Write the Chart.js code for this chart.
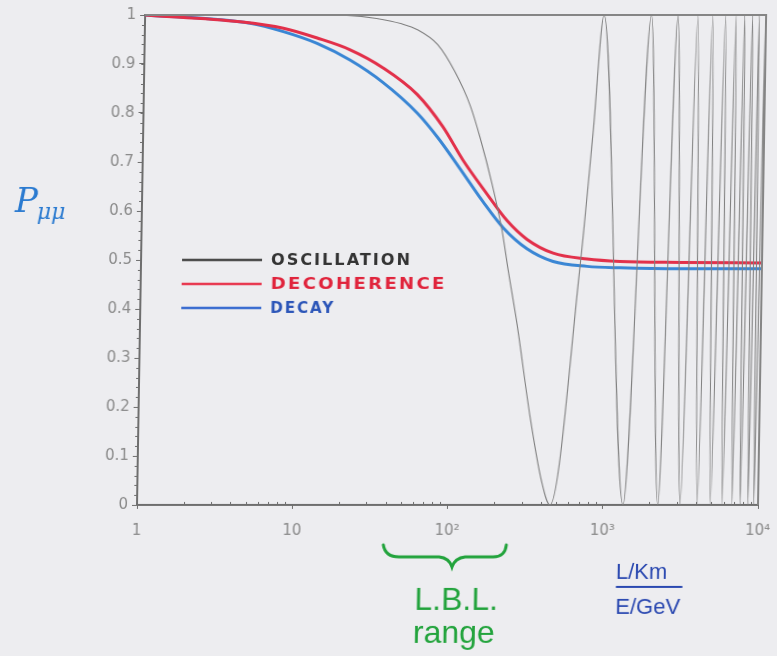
<!DOCTYPE html>
<html>
<head>
<meta charset="utf-8">
<script src="https://cdn.jsdelivr.net/npm/chart.js@4.4.1/dist/chart.umd.min.js"></script>
<style>
  html, body { margin: 0; padding: 0; background: #ededf0; }
  #c { display: block; transform: skewX(-0.95deg); transform-origin: 0 505px; }
</style>
</head>
<body>
<canvas id="c" width="777" height="656"></canvas>
<script>
// L/E values (km/GeV) and survival probabilities
const oscX = [1, 10, 20, 31, 45, 57, 77, 100, 127, 148, 179, 210, 232, 268, 333, 400, 457,
  673, 791, 905, 1350, 1830, 2260, 2710, 3150, 3640, 4050, 4540, 4920, 5500,
  5860, 6420, 6780, 7300, 7660, 8200, 8600, 9050, 9380, 9950, 10000];
const oscY = [1, 1, 0.999, 0.993, 0.982, 0.97, 0.94, 0.885, 0.815, 0.75, 0.655, 0.56, 0.48, 0.37, 0.18, 0.05, 0,
  0.486, 0.76, 1, 0, 1, 0, 1, 0, 1, 0, 1, 0, 1,
  0, 1, 0, 1, 0, 1, 0, 1, 0, 1, 0.99];

const decohX = [1, 4.1, 7.8, 12.9, 21.1, 34.6, 57.6, 85, 116, 167, 226, 305, 450, 746, 1213, 3000, 10000];
const decohY = [1, 0.986, 0.973, 0.953, 0.929, 0.892, 0.838, 0.772, 0.703, 0.634, 0.58, 0.542, 0.514, 0.502, 0.497, 0.495, 0.494];

const decayX = [1, 4.75, 7.8, 12.9, 21.1, 34.7, 57.9, 79, 111, 157, 213, 305, 451, 746, 1216, 3000, 10000];
const decayY = [1, 0.983, 0.966, 0.942, 0.908, 0.862, 0.8, 0.75, 0.686, 0.619, 0.566, 0.523, 0.497, 0.487, 0.484, 0.482, 0.482];

const xMajor = [1, 10, 100, 1000, 10000];
const xLabels = ['1', '10', '10²', '10³', '10⁴'];
const seriesNames = ['OSCILLATION', 'DECOHERENCE', 'DECAY'];

const pts = (xs, ys) => xs.map((x, i) => ({ x, y: ys[i] }));

const axisColor = '#6e6e6e';
const tickText = '#8a8a8a';

// draw text stretched to a given width
function fitText(ctx, text, x, y, w) {
  const m = ctx.measureText(text).width;
  ctx.save();
  ctx.translate(x, y);
  ctx.scale(w / m, 1);
  ctx.fillText(text, 0, 0);
  ctx.restore();
}

// box, minor ticks, legend and hand notes
const extras = {
  id: 'extras',
  afterDraw(chart) {
    const { ctx, chartArea: a, scales } = chart;
    const xs = scales.x, ys = scales.y;
    ctx.save();

    ctx.strokeStyle = '#858585';
    ctx.lineWidth = 2;
    ctx.beginPath();
    ctx.moveTo(a.left, a.top);
    ctx.lineTo(a.right, a.top);
    ctx.lineTo(a.right, a.bottom);
    ctx.stroke();

    ctx.strokeStyle = axisColor;
    ctx.lineWidth = 1;
    ctx.beginPath();
    for (let v = 0; v <= 1.0001; v += 0.02) {
      const y = Math.round(ys.getPixelForValue(v)) + 0.5;
      ctx.moveTo(a.left - 3, y);
      ctx.lineTo(a.left, y);
    }
    for (let d = 1; d < 10000; d *= 10) {
      for (let m = 2; m <= 9; m++) {
        const x = Math.round(xs.getPixelForValue(d * m)) + 0.5;
        ctx.moveTo(x, a.bottom);
        ctx.lineTo(x, a.bottom - 3);
      }
    }
    ctx.stroke();

    // legend
    const lineCols = ['#4a4a4a', '#e8384f', '#3a6cd0'];
    const textCols = ['#333333', '#e0243c', '#2b55b8'];
    const textW = [141, 176, 65];
    ctx.font = 'bold 16px "DejaVu Sans"';
    ctx.letterSpacing = '2px';
    ctx.textBaseline = 'middle';
    [260, 284, 308].forEach((y, i) => {
      ctx.strokeStyle = lineCols[i];
      ctx.lineWidth = 2.5;
      ctx.beginPath();
      ctx.moveTo(178, y);
      ctx.lineTo(258, y);
      ctx.stroke();
      ctx.fillStyle = textCols[i];
      fitText(ctx, seriesNames[i], 267, y + 1, textW[i]);
    });
    ctx.letterSpacing = '0px';

    // y label
    ctx.fillStyle = '#2a7ad0';
    ctx.textBaseline = 'alphabetic';
    ctx.font = 'italic 34px "DejaVu Serif"';
    ctx.fillText('P', 10, 212);
    ctx.font = 'italic 22px "DejaVu Serif"';
    ctx.fillText('μμ', 32, 219, 34);

    // L.B.L. brace
    ctx.strokeStyle = '#22a33c';
    ctx.lineWidth = 3;
    ctx.lineCap = 'round';
    ctx.beginPath();
    ctx.moveTo(384, 545);
    ctx.quadraticCurveTo(386, 557, 400, 557);
    ctx.lineTo(440, 557);
    ctx.quadraticCurveTo(450, 558, 453, 567);
    ctx.quadraticCurveTo(456, 558, 466, 557);
    ctx.lineTo(494, 557);
    ctx.quadraticCurveTo(506, 557, 507, 545);
    ctx.stroke();
    ctx.fillStyle = '#22a33c';
    ctx.font = '32px "Liberation Sans"';
    ctx.fillText('L.B.L.', 416, 610, 88);
    ctx.fillText('range', 415, 643, 92);

    // x axis unit
    ctx.fillStyle = '#2a48b0';
    ctx.font = '22px "Liberation Sans"';
    ctx.fillText('L/Km', 617, 579, 70);
    ctx.fillText('E/GeV', 617, 614, 78);
    ctx.strokeStyle = '#2a48b0';
    ctx.lineWidth = 2;
    ctx.beginPath();
    ctx.moveTo(618, 587);
    ctx.lineTo(683, 587);
    ctx.stroke();

    ctx.restore();
  }
};

new Chart(document.getElementById('c'), {
  type: 'line',
  data: {
    datasets: [
      { label: seriesNames[0], data: pts(oscX, oscY), borderColor: '#808080', borderWidth: 1.1 },
      { label: seriesNames[1], data: pts(decohX, decohY), borderColor: '#e2304a', borderWidth: 3 },
      { label: seriesNames[2], data: pts(decayX, decayY), borderColor: '#3a86d4', borderWidth: 3 }
    ]
  },
  options: {
    responsive: false,
    animation: false,
    layout: { padding: { top: 15, right: 19, left: 0, bottom: 0 } },
    elements: {
      point: { radius: 0 },
      line: { cubicInterpolationMode: 'monotone' }
    },
    plugins: { legend: { display: false }, tooltip: { enabled: false } },
    scales: {
      x: {
        type: 'logarithmic',
        min: 1,
        max: 10000,
        afterBuildTicks: s => { s.ticks = xMajor.map(v => ({ value: v })); },
        afterFit: s => { s.height = 151; s.paddingLeft = 0; s.paddingRight = 0; },
        ticks: {
          color: tickText,
          font: { family: 'DejaVu Sans', size: 15 },
          padding: 13,
          maxRotation: 0,
          autoSkip: false,
          callback: v => xLabels[xMajor.indexOf(v)] ?? ''
        },
        grid: { drawOnChartArea: false, tickLength: 4, color: axisColor },
        border: { color: axisColor, width: 2 }
      },
      y: {
        min: 0,
        max: 1,
        afterFit: s => { s.width = 137; },
        ticks: {
          stepSize: 0.1,
          color: tickText,
          font: { family: 'DejaVu Sans', size: 15 },
          padding: 4,
          callback: v => (v === 0 || v === 1) ? String(v) : v.toFixed(1)
        },
        grid: { drawOnChartArea: false, tickLength: 5, color: axisColor },
        border: { color: axisColor, width: 2 }
      }
    }
  },
  plugins: [extras]
});
</script>
</body>
</html>
